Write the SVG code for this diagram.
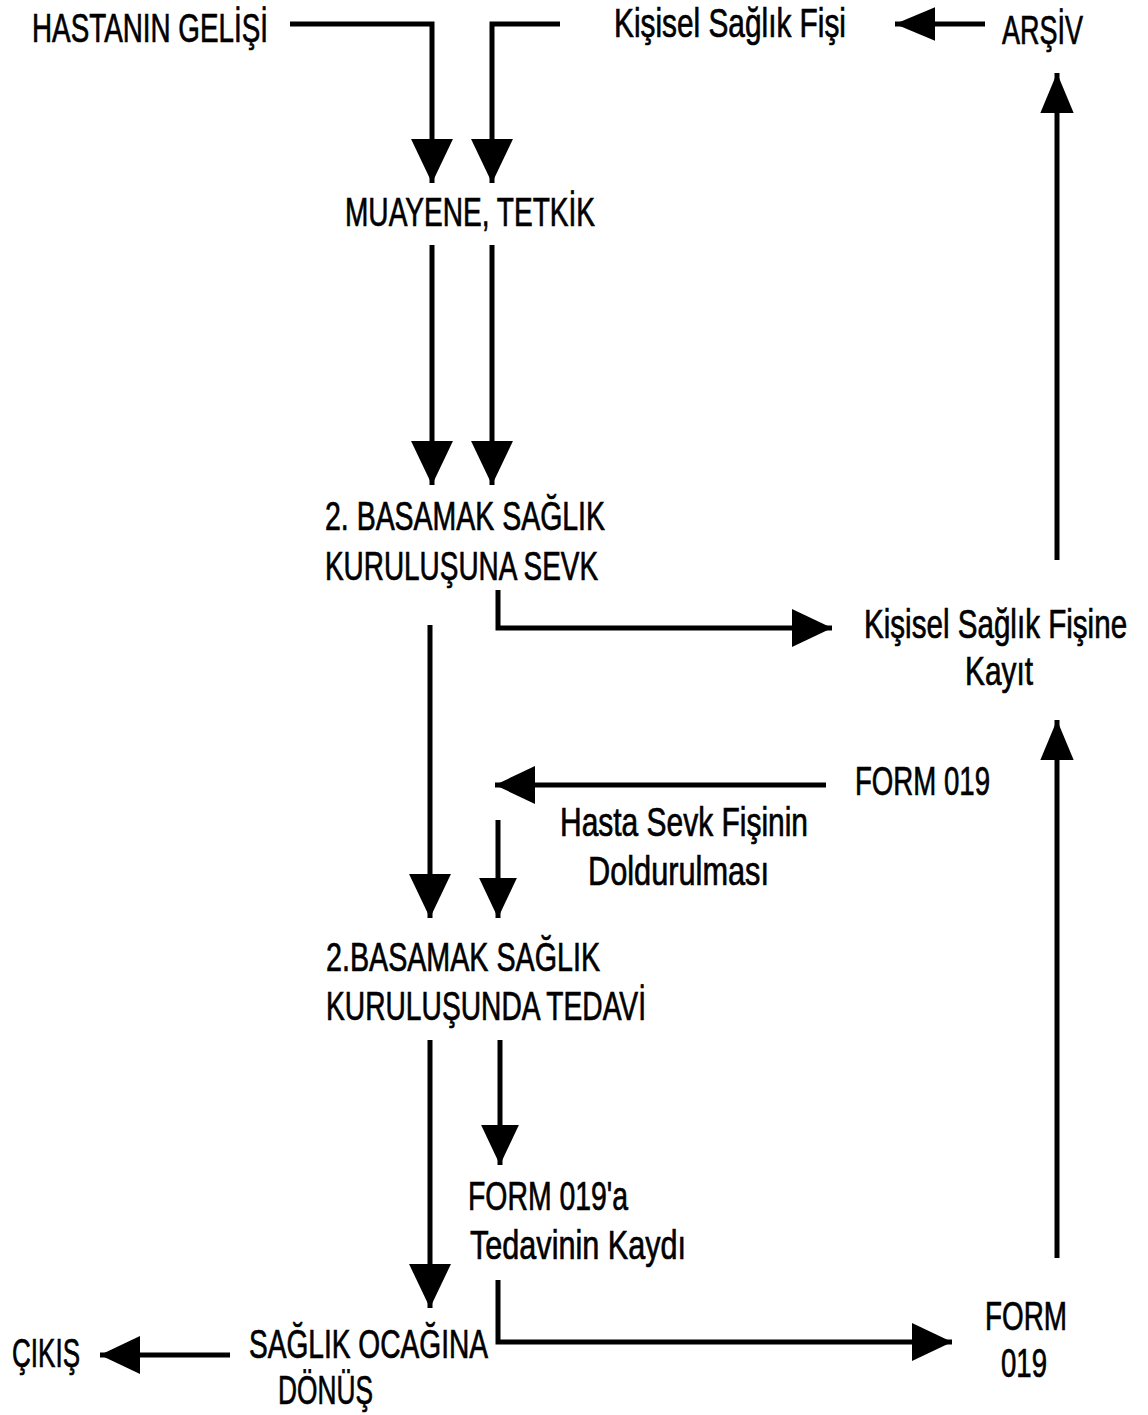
<svg xmlns="http://www.w3.org/2000/svg" width="1148" height="1415" viewBox="0 0 1148 1415">
<style>
text{font-family:"Liberation Sans",Arial,sans-serif;font-size:40px;fill:#000;stroke:#000;stroke-width:0.7;}
.ln{fill:none;stroke:#000;stroke-width:5;}
</style>
<defs>
<marker id="big" markerUnits="userSpaceOnUse" markerWidth="44" markerHeight="44" viewBox="0 0 42 40" refX="42" refY="20" orient="auto">
<path d="M0,0 L42,20 L0,40 Z" fill="#000"/>
</marker>
<marker id="mid" markerUnits="userSpaceOnUse" markerWidth="40" markerHeight="40" viewBox="0 0 36 34" refX="36" refY="17" orient="auto">
<path d="M0,0 L36,17 L0,34 Z" fill="#000"/>
</marker>
<marker id="sm" markerUnits="userSpaceOnUse" markerWidth="40" markerHeight="34" viewBox="0 0 36 30" refX="36" refY="15" orient="auto">
<path d="M0,0 L36,15 L0,30 Z" fill="#000"/>
</marker>
</defs>
<rect width="1148" height="1415" fill="#fff"/>
<g id="connectors">
<path class="ln" d="M290,24 H432 V183" marker-end="url(#big)"/>
<path class="ln" d="M560,24 H492 V183" marker-end="url(#big)"/>
<path class="ln" d="M985,24 H895" marker-end="url(#sm)"/>
<path class="ln" d="M1057,560 V73" marker-end="url(#sm)"/>
<path class="ln" d="M432,245 V485" marker-end="url(#big)"/>
<path class="ln" d="M492,245 V485" marker-end="url(#big)"/>
<path class="ln" d="M498,590 V628 H832" marker-end="url(#mid)"/>
<path class="ln" d="M430,625 V918" marker-end="url(#big)"/>
<path class="ln" d="M826,785 H495" marker-end="url(#mid)"/>
<path class="ln" d="M498,820 V918" marker-end="url(#mid)"/>
<path class="ln" d="M430,1040 V1308" marker-end="url(#big)"/>
<path class="ln" d="M500,1040 V1165" marker-end="url(#mid)"/>
<path class="ln" d="M498,1280 V1342 H952" marker-end="url(#mid)"/>
<path class="ln" d="M230,1355 H100" marker-end="url(#mid)"/>
<path class="ln" d="M1057,1258 V720" marker-end="url(#sm)"/>
</g>
<g id="n-hastanin"><text x="32" y="42" textLength="236" lengthAdjust="spacingAndGlyphs">HASTANIN GELİŞİ</text></g>
<g id="n-kisisel"><text x="614" y="37" textLength="232" lengthAdjust="spacingAndGlyphs">Kişisel Sağlık Fişi</text></g>
<g id="n-arsiv"><text x="1002" y="44" textLength="81" lengthAdjust="spacingAndGlyphs">ARŞİV</text></g>
<g id="n-muayene"><text x="345" y="226" textLength="250" lengthAdjust="spacingAndGlyphs">MUAYENE, TETKİK</text></g>
<g id="n-sevk"><text x="325" y="530" textLength="280" lengthAdjust="spacingAndGlyphs">2. BASAMAK SAĞLIK</text><text x="325" y="580" textLength="273" lengthAdjust="spacingAndGlyphs">KURULUŞUNA SEVK</text></g>
<g id="n-kayit"><text transform="translate(864,638) scale(0.74,1)" x="0" y="0">Kişisel Sağlık Fişine</text><text x="965" y="685" textLength="68" lengthAdjust="spacingAndGlyphs">Kayıt</text></g>
<g id="n-form019a"><text x="855" y="795" textLength="135" lengthAdjust="spacingAndGlyphs">FORM 019</text></g>
<g id="n-hastasevk"><text x="560" y="836" textLength="248" lengthAdjust="spacingAndGlyphs">Hasta Sevk Fişinin</text><text x="588" y="885" textLength="181" lengthAdjust="spacingAndGlyphs">Doldurulması</text></g>
<g id="n-tedavi"><text x="326" y="971" textLength="274" lengthAdjust="spacingAndGlyphs">2.BASAMAK SAĞLIK</text><text x="326" y="1020" textLength="320" lengthAdjust="spacingAndGlyphs">KURULUŞUNDA TEDAVİ</text></g>
<g id="n-tedavikaydi"><text x="468" y="1210" textLength="160" lengthAdjust="spacingAndGlyphs">FORM 019'a</text><text x="470" y="1259" textLength="216" lengthAdjust="spacingAndGlyphs">Tedavinin Kaydı</text></g>
<g id="n-donus"><text x="249" y="1358" textLength="239" lengthAdjust="spacingAndGlyphs">SAĞLIK OCAĞINA</text><text x="278" y="1404" textLength="95" lengthAdjust="spacingAndGlyphs">DÖNÜŞ</text></g>
<g id="n-cikis"><text x="12" y="1367" textLength="68" lengthAdjust="spacingAndGlyphs">ÇIKIŞ</text></g>
<g id="n-form019b"><text x="985" y="1330" textLength="82" lengthAdjust="spacingAndGlyphs">FORM</text><text x="1001" y="1377" textLength="46" lengthAdjust="spacingAndGlyphs">019</text></g>
</svg>
